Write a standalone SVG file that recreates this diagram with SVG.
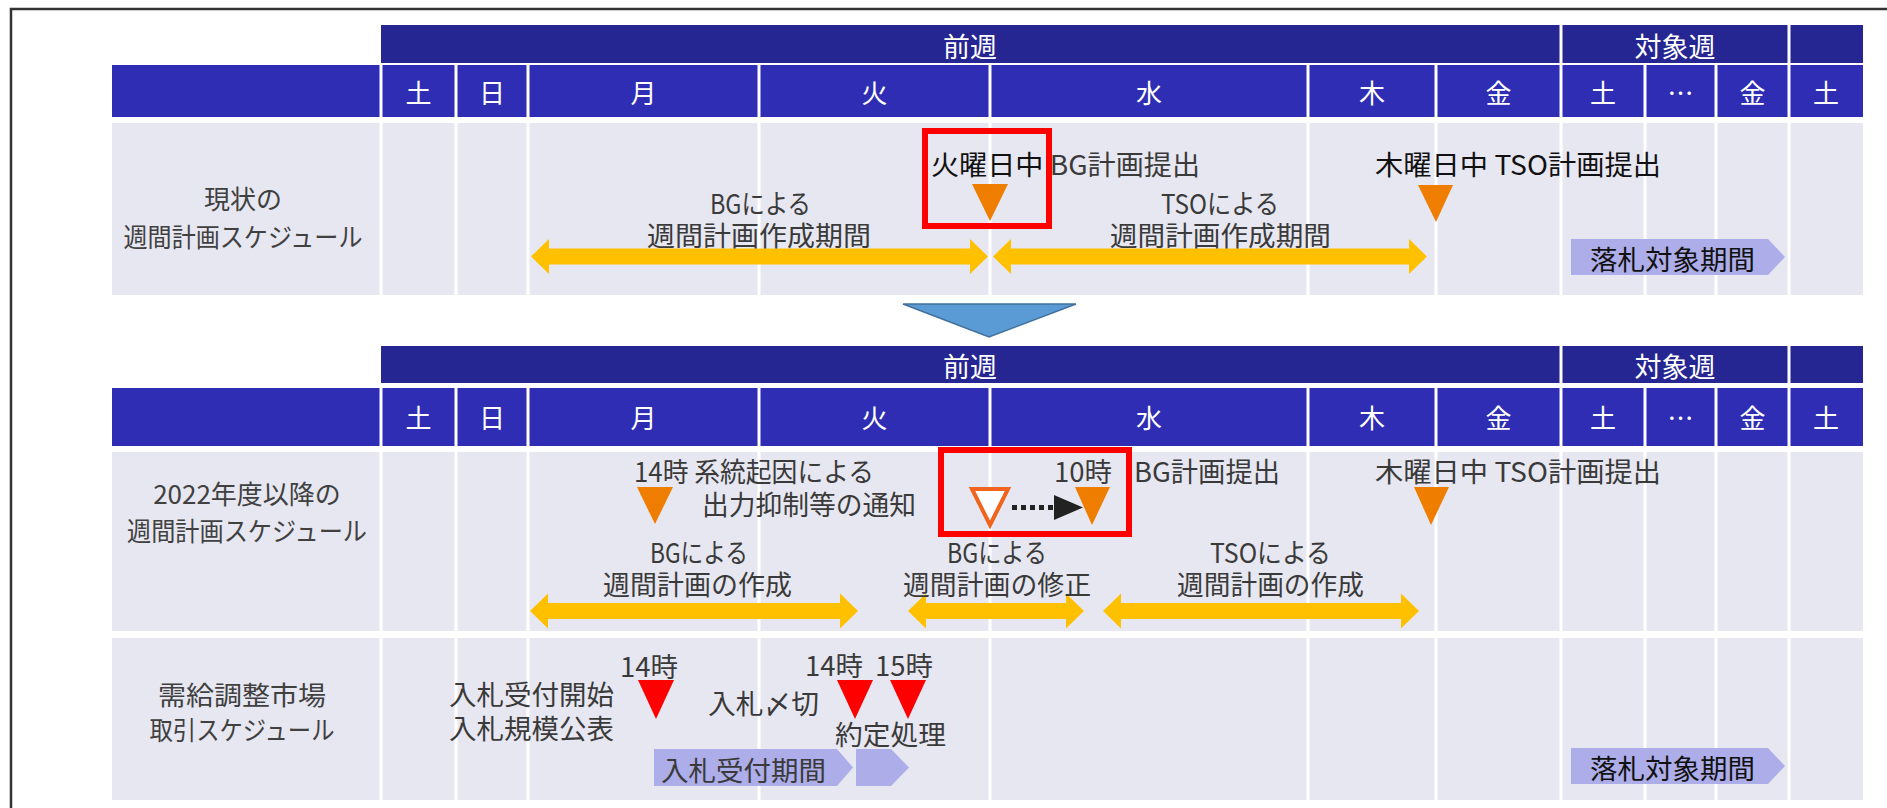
<svg xmlns="http://www.w3.org/2000/svg" width="1887" height="808" viewBox="0 0 1887 808">
<style>
text{font-family:"Noto Sans CJK JP","Noto Sans",sans-serif;dominant-baseline:central;}
.wk{fill:#262692;}
.day{fill:#2E2DB4;}
.row{fill:#E7E7F1;}
.sepw{stroke:#FFFFFF;stroke-width:3;}
.hd{fill:#FFFFFF;font-size:27px;text-anchor:middle;}
.dl{fill:#FFFFFF;font-size:26px;text-anchor:middle;}
.lb{fill:#404040;font-size:26px;text-anchor:middle;}
.tx{fill:#3A3A3A;font-size:27px;}
.txm{fill:#3A3A3A;font-size:27px;text-anchor:middle;}
.dk{fill:#111111;}
.ya{fill:#FFC000;}
.ot{fill:#EF7D00;}
.rt{fill:#FF0000;}
.pb{fill:#ADADEA;}
.rb{fill:none;stroke:#FF0000;stroke-width:6;}
</style>

<!-- frame -->
<path d="M11,808 V9 H1887" fill="none" stroke="#333333" stroke-width="2.5"/>

<!-- ===== Section 1 ===== -->
<g id="header1">
<rect class="wk" x="381" y="25" width="1482" height="38"/>
<line class="sepw" x1="1561" y1="25" x2="1561" y2="63"/>
<line class="sepw" x1="1789" y1="25" x2="1789" y2="63"/>
<text class="hd" x="970" y="45">前週</text>
<text class="hd" x="1675" y="45">対象週</text>
<rect class="day" x="112" y="65" width="1751" height="52"/>
<g class="sepw">
<line x1="381" y1="65" x2="381" y2="117"/><line x1="456" y1="65" x2="456" y2="117"/><line x1="528" y1="65" x2="528" y2="117"/><line x1="759" y1="65" x2="759" y2="117"/><line x1="990" y1="65" x2="990" y2="117"/><line x1="1308" y1="65" x2="1308" y2="117"/><line x1="1436" y1="65" x2="1436" y2="117"/><line x1="1561" y1="65" x2="1561" y2="117"/><line x1="1645" y1="65" x2="1645" y2="117"/><line x1="1716" y1="65" x2="1716" y2="117"/><line x1="1789" y1="65" x2="1789" y2="117"/>
</g>
<text class="dl" x="418.5" y="91">土</text><text class="dl" x="492" y="91">日</text><text class="dl" x="643.5" y="91">月</text><text class="dl" x="874.5" y="91">火</text><text class="dl" x="1149" y="91">水</text><text class="dl" x="1372" y="91">木</text><text class="dl" x="1498.5" y="91">金</text><text class="dl" x="1603" y="91">土</text><text class="dl" x="1680.5" y="91">…</text><text class="dl" x="1752.5" y="91">金</text><text class="dl" x="1826" y="91">土</text>
</g>

<g id="row-current">
<rect class="row" x="112" y="123" width="1751" height="172"/>
<g class="sepw">
<line x1="381" y1="123" x2="381" y2="295"/><line x1="456" y1="123" x2="456" y2="295"/><line x1="528" y1="123" x2="528" y2="295"/><line x1="759" y1="123" x2="759" y2="295"/><line x1="990" y1="123" x2="990" y2="295"/><line x1="1308" y1="123" x2="1308" y2="295"/><line x1="1436" y1="123" x2="1436" y2="295"/><line x1="1561" y1="123" x2="1561" y2="295"/><line x1="1645" y1="123" x2="1645" y2="295"/><line x1="1716" y1="123" x2="1716" y2="295"/><line x1="1789" y1="123" x2="1789" y2="295"/>
</g>
<text class="lb" x="243" y="197">現状の</text>
<text class="lb" x="243" y="235" textLength="239" lengthAdjust="spacingAndGlyphs">週間計画スケジュール</text>
</g>

<g id="bg-period-1">
<polygon class="ya" points="531,256.5 549,239 549,248.5 970,248.5 970,239 988,256.5 970,274 970,264.5 549,264.5 549,274"/>
<text class="tx" x="710" y="202" textLength="101" lengthAdjust="spacingAndGlyphs">BGによる</text>
<text class="tx" x="647" y="234" textLength="224" lengthAdjust="spacingAndGlyphs">週間計画作成期間</text>
</g>

<g id="tso-period-1">
<polygon class="ya" points="993,256.5 1011,239 1011,248.5 1409,248.5 1409,239 1427,256.5 1409,274 1409,264.5 1011,264.5 1011,274"/>
<text class="tx" x="1161" y="202" textLength="118" lengthAdjust="spacingAndGlyphs">TSOによる</text>
<text class="tx" x="1110" y="234" textLength="221" lengthAdjust="spacingAndGlyphs">週間計画作成期間</text>
</g>

<g id="bg-submit-1">
<text class="tx" x="931" y="163" textLength="269" lengthAdjust="spacingAndGlyphs"><tspan class="dk">火曜日中</tspan> BG計画提出</text>
<polygon class="ot" points="972,184 1008,184 990,221"/>
<rect class="rb" x="925" y="131" width="124" height="95"/>
</g>

<g id="tso-submit-1">
<text class="tx dk" x="1375" y="163" textLength="286" lengthAdjust="spacingAndGlyphs">木曜日中 TSO計画提出</text>
<polygon class="ot" points="1418,185 1453,185 1436,222"/>
</g>

<g id="award-1">
<polygon class="pb" points="1571,239 1768,239 1785,257 1768,275 1571,275"/>
<text class="tx dk" x="1590" y="258" textLength="165" lengthAdjust="spacingAndGlyphs">落札対象期間</text>
</g>

<!-- transition arrow -->
<g id="down-arrow">
<polygon points="903,304 1076,304 989,337" fill="#5B9BD5" stroke="#41719C" stroke-width="1.5"/>
</g>

<!-- ===== Section 2 ===== -->
<g id="header2">
<rect class="wk" x="381" y="346" width="1482" height="37"/>
<line class="sepw" x1="1561" y1="346" x2="1561" y2="383"/>
<line class="sepw" x1="1789" y1="346" x2="1789" y2="383"/>
<text class="hd" x="970" y="365">前週</text>
<text class="hd" x="1675" y="365">対象週</text>
<rect class="day" x="112" y="388" width="1751" height="58"/>
<g class="sepw">
<line x1="381" y1="388" x2="381" y2="446"/><line x1="456" y1="388" x2="456" y2="446"/><line x1="528" y1="388" x2="528" y2="446"/><line x1="759" y1="388" x2="759" y2="446"/><line x1="990" y1="388" x2="990" y2="446"/><line x1="1308" y1="388" x2="1308" y2="446"/><line x1="1436" y1="388" x2="1436" y2="446"/><line x1="1561" y1="388" x2="1561" y2="446"/><line x1="1645" y1="388" x2="1645" y2="446"/><line x1="1716" y1="388" x2="1716" y2="446"/><line x1="1789" y1="388" x2="1789" y2="446"/>
</g>
<text class="dl" x="418.5" y="416">土</text><text class="dl" x="492" y="416">日</text><text class="dl" x="643.5" y="416">月</text><text class="dl" x="874.5" y="416">火</text><text class="dl" x="1149" y="416">水</text><text class="dl" x="1372" y="416">木</text><text class="dl" x="1498.5" y="416">金</text><text class="dl" x="1603" y="416">土</text><text class="dl" x="1680.5" y="416">…</text><text class="dl" x="1752.5" y="416">金</text><text class="dl" x="1826" y="416">土</text>
</g>

<g id="row-2022">
<rect class="row" x="112" y="452" width="1751" height="179"/>
<g class="sepw">
<line x1="381" y1="452" x2="381" y2="631"/><line x1="456" y1="452" x2="456" y2="631"/><line x1="528" y1="452" x2="528" y2="631"/><line x1="759" y1="452" x2="759" y2="631"/><line x1="990" y1="452" x2="990" y2="631"/><line x1="1308" y1="452" x2="1308" y2="631"/><line x1="1436" y1="452" x2="1436" y2="631"/><line x1="1561" y1="452" x2="1561" y2="631"/><line x1="1645" y1="452" x2="1645" y2="631"/><line x1="1716" y1="452" x2="1716" y2="631"/><line x1="1789" y1="452" x2="1789" y2="631"/>
</g>
<text class="lb" x="247" y="492">2022年度以降の</text>
<text class="lb" x="247" y="529" textLength="240" lengthAdjust="spacingAndGlyphs">週間計画スケジュール</text>
</g>

<g id="notice">
<text class="tx" x="634" y="470" textLength="240" lengthAdjust="spacingAndGlyphs">14時 系統起因による</text>
<text class="tx" x="702" y="503" textLength="214" lengthAdjust="spacingAndGlyphs">出力抑制等の通知</text>
<polygon class="ot" points="637,487 673,487 655,524"/>
</g>

<g id="bg-create-2">
<polygon class="ya" points="530,611 548,593.5 548,603 840,603 840,593.5 858,611 840,628.5 840,619 548,619 548,628.5"/>
<text class="tx" x="650" y="551" textLength="98" lengthAdjust="spacingAndGlyphs">BGによる</text>
<text class="tx" x="603" y="583" textLength="189" lengthAdjust="spacingAndGlyphs">週間計画の作成</text>
</g>

<g id="bg-revise-2">
<polygon class="ya" points="908,611 926,593.5 926,603 1066,603 1066,593.5 1084,611 1066,628.5 1066,619 926,619 926,628.5"/>
<text class="tx" x="947" y="551" textLength="100" lengthAdjust="spacingAndGlyphs">BGによる</text>
<text class="tx" x="903" y="583" textLength="188" lengthAdjust="spacingAndGlyphs">週間計画の修正</text>
</g>

<g id="tso-create-2">
<polygon class="ya" points="1103,611 1121,593.5 1121,603 1401,603 1401,593.5 1419,611 1401,628.5 1401,619 1121,619 1121,628.5"/>
<text class="tx" x="1210" y="551" textLength="121" lengthAdjust="spacingAndGlyphs">TSOによる</text>
<text class="tx" x="1177" y="583" textLength="187" lengthAdjust="spacingAndGlyphs">週間計画の作成</text>
</g>

<g id="bg-submit-2">
<polygon points="972,489 1008,489 990,525" fill="#FFFFFF" stroke="#F0641E" stroke-width="4" stroke-linejoin="miter"/>
<polygon class="ot" points="1075,487 1110,487 1092,525"/>
<text class="tx" x="1054" y="470" textLength="58" lengthAdjust="spacingAndGlyphs">10時</text>
<text class="tx" x="1134" y="470" textLength="146" lengthAdjust="spacingAndGlyphs">BG計画提出</text>
<rect class="rb" x="941" y="450" width="188" height="84"/>
</g>

<g id="tso-submit-2">
<text class="tx" x="1375" y="470" textLength="286" lengthAdjust="spacingAndGlyphs">木曜日中 TSO計画提出</text>
<polygon class="ot" points="1414,487 1449,487 1431,525"/>
</g>

<!-- ===== Section 3 ===== -->
<g id="row-market">
<rect class="row" x="112" y="638" width="1751" height="162"/>
<g class="sepw">
<line x1="381" y1="638" x2="381" y2="800"/><line x1="456" y1="638" x2="456" y2="800"/><line x1="528" y1="638" x2="528" y2="800"/><line x1="759" y1="638" x2="759" y2="800"/><line x1="990" y1="638" x2="990" y2="800"/><line x1="1308" y1="638" x2="1308" y2="800"/><line x1="1436" y1="638" x2="1436" y2="800"/><line x1="1561" y1="638" x2="1561" y2="800"/><line x1="1645" y1="638" x2="1645" y2="800"/><line x1="1716" y1="638" x2="1716" y2="800"/><line x1="1789" y1="638" x2="1789" y2="800"/>
</g>
<text class="lb" x="242" y="693" textLength="168" lengthAdjust="spacingAndGlyphs" text-anchor="middle">需給調整市場</text>
<text class="lb" x="242" y="728" textLength="185" lengthAdjust="spacingAndGlyphs">取引スケジュール</text>
</g>

<g id="bid-open">
<text class="tx" x="449" y="693" textLength="165" lengthAdjust="spacingAndGlyphs">入札受付開始</text>
<text class="tx" x="449" y="727" textLength="165" lengthAdjust="spacingAndGlyphs">入札規模公表</text>
<text class="tx" x="620" y="665" textLength="58" lengthAdjust="spacingAndGlyphs">14時</text>
<polygon class="rt" points="638,680 674,680 656,719"/>
</g>

<g id="bid-period">
<polygon class="pb" points="654,749 837,749 853,767.5 837,786 654,786"/>
<text class="tx" x="661" y="769" textLength="165" lengthAdjust="spacingAndGlyphs">入札受付期間</text>
<polygon class="pb" points="856,749 891,749 909,767.5 891,786 856,786"/>
</g>

<g id="bid-close">
<text class="tx" x="708" y="702" textLength="111" lengthAdjust="spacingAndGlyphs">入札〆切</text>
<text class="tx" x="805" y="664" textLength="58" lengthAdjust="spacingAndGlyphs">14時</text>
<polygon class="rt" points="837,680 873,680 855,719"/>
</g>

<g id="contract">
<text class="tx" x="875" y="664" textLength="58" lengthAdjust="spacingAndGlyphs">15時</text>
<polygon class="rt" points="890,680 926,680 908,719"/>
<text class="tx" x="835" y="733" textLength="111" lengthAdjust="spacingAndGlyphs">約定処理</text>
</g>

<g id="award-3">
<polygon class="pb" points="1571,748 1768,748 1785,766 1768,784 1571,784"/>
<text class="tx dk" x="1590" y="767" textLength="165" lengthAdjust="spacingAndGlyphs">落札対象期間</text>
</g>

<g id="connectors">
<line x1="1012" y1="507.5" x2="1054" y2="507.5" stroke="#222222" stroke-width="5" stroke-dasharray="5 4"/>
<polygon points="1054,495 1083,507.5 1054,520" fill="#222222"/>
</g>
</svg>
